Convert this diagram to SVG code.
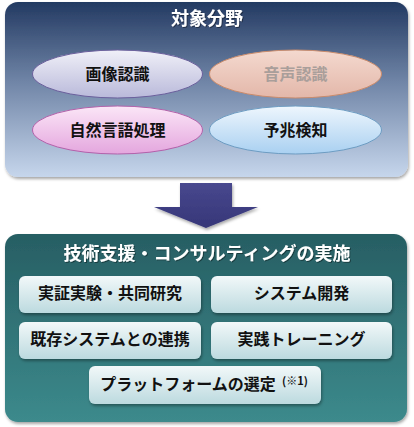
<svg xmlns="http://www.w3.org/2000/svg" width="414" height="427" viewBox="0 0 414 427">
<style>
.t{font-family:"Noto Sans CJK JP","Noto Sans",sans-serif;font-weight:bold;text-anchor:middle}
.w{fill:#ffffff;font-size:18px}
.k{fill:#111111;font-size:16px}
.box{fill:url(#gBox);filter:url(#sh)}
</style>
<defs>
<linearGradient id="gTop" x1="0" y1="0" x2="0" y2="1">
<stop offset="0" stop-color="#233a62"/>
<stop offset="0.45" stop-color="#6f84a6"/>
<stop offset="1" stop-color="#c6d6ec"/>
</linearGradient>
<linearGradient id="gBot" x1="0" y1="0" x2="0" y2="1">
<stop offset="0" stop-color="#275e63"/>
<stop offset="1" stop-color="#3c8a8c"/>
</linearGradient>
<linearGradient id="gArrow" x1="0" y1="0" x2="0" y2="1">
<stop offset="0" stop-color="#48488e"/>
<stop offset="1" stop-color="#363678"/>
</linearGradient>
<linearGradient id="gBox" x1="0" y1="0" x2="0" y2="1">
<stop offset="0" stop-color="#f2f8f9"/>
<stop offset="1" stop-color="#bcdadf"/>
</linearGradient>
<linearGradient id="gE1" x1="0" y1="0" x2="0" y2="1">
<stop offset="0" stop-color="#f0f0f8"/>
<stop offset="1" stop-color="#b9b9da"/>
</linearGradient>
<linearGradient id="gE2" x1="0" y1="0" x2="0" y2="1">
<stop offset="0" stop-color="#f4d9cf"/>
<stop offset="1" stop-color="#e3b7a9"/>
</linearGradient>
<linearGradient id="gE3" x1="0" y1="0" x2="0" y2="1">
<stop offset="0" stop-color="#fbe6f7"/>
<stop offset="1" stop-color="#e4a6de"/>
</linearGradient>
<linearGradient id="gE4" x1="0" y1="0" x2="0" y2="1">
<stop offset="0" stop-color="#eef6fd"/>
<stop offset="1" stop-color="#a9d0f1"/>
</linearGradient>
<filter id="sh" x="-10%" y="-10%" width="120%" height="130%">
<feDropShadow dx="1" dy="2" stdDeviation="1.5" flood-color="#000" flood-opacity="0.35"/>
</filter>
<filter id="tsh" x="-10%" y="-20%" width="120%" height="150%">
<feDropShadow dx="1" dy="1" stdDeviation="0.6" flood-color="#000" flood-opacity="0.4"/>
</filter>
</defs>

<g id="panel-top">
<rect x="5" y="2" width="403" height="175" rx="13" fill="url(#gTop)" filter="url(#sh)"/>
<text class="t w" x="207" y="25" filter="url(#tsh)">対象分野</text>
</g>

<g id="node-image">
<ellipse cx="117.5" cy="74" rx="85" ry="24" fill="url(#gE1)" stroke="#6a5f9c" stroke-width="1"/>
<text class="t k" x="117.5" y="79.5">画像認識</text>
</g>
<g id="node-voice">
<ellipse cx="295.5" cy="74" rx="86" ry="24" fill="url(#gE2)" stroke="#c98b6c" stroke-width="1"/>
<text class="t k" x="295.5" y="79.5" style="fill:#a99e9a">音声認識</text>
</g>
<g id="node-nlp">
<ellipse cx="117.5" cy="130" rx="85" ry="24" fill="url(#gE3)" stroke="#b261aa" stroke-width="1"/>
<text class="t k" x="117.5" y="135.5">自然言語処理</text>
</g>
<g id="node-predict">
<ellipse cx="295.5" cy="130" rx="86" ry="24" fill="url(#gE4)" stroke="#6d9cc2" stroke-width="1"/>
<text class="t k" x="295.5" y="135.5">予兆検知</text>
</g>

<g id="connectors">
<polygon points="180,183 232,183 232,207 258,207 206,228 154,207 180,207" fill="url(#gArrow)" filter="url(#sh)"/>
</g>

<g id="panel-bottom">
<rect x="5" y="234" width="402" height="188" rx="13" fill="url(#gBot)" filter="url(#sh)"/>
<text class="t w" x="207" y="259.5" filter="url(#tsh)">技術支援・コンサルティングの実施</text>
</g>

<g id="box-jissho">
<rect class="box" x="19" y="276" width="182" height="37" rx="6"/>
<text class="t k" x="110" y="299">実証実験・共同研究</text>
</g>
<g id="box-system">
<rect class="box" x="211" y="276" width="181" height="37" rx="6"/>
<text class="t k" x="301.5" y="299">システム開発</text>
</g>
<g id="box-renkei">
<rect class="box" x="19" y="322" width="182" height="37" rx="6"/>
<text class="t k" x="110" y="345">既存システムとの連携</text>
</g>
<g id="box-training">
<rect class="box" x="211" y="322" width="181" height="37" rx="6"/>
<text class="t k" x="301.5" y="345">実践トレーニング</text>
</g>
<g id="box-platform">
<rect class="box" x="89" y="366" width="232" height="38" rx="6"/>
<text class="t k" x="188" y="390">プラットフォームの選定</text>
<text class="t" x="295" y="385" style="font-size:11px;fill:#111">(※1)</text>
</g>
</svg>
